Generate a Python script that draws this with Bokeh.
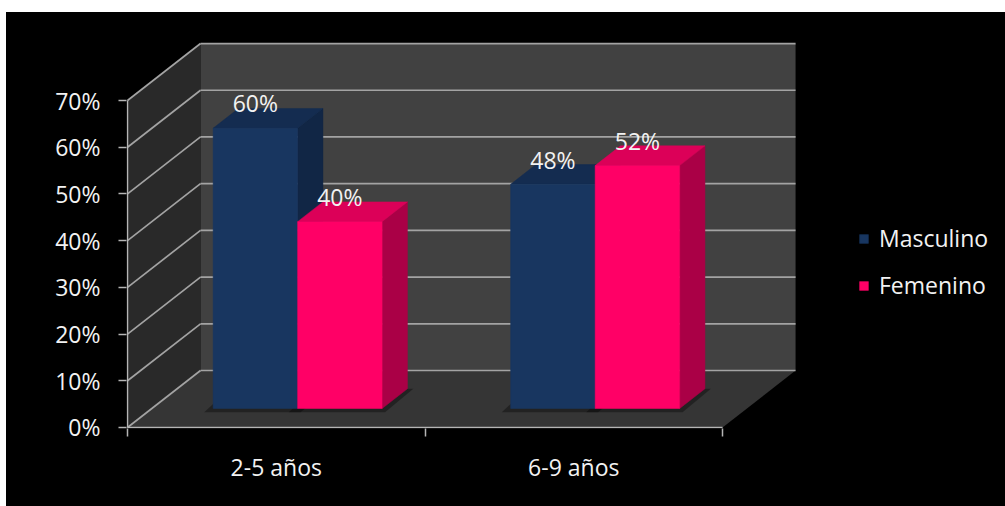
import numpy as np
from bokeh.plotting import figure
from bokeh.layouts import column, row
from bokeh.models import (Range1d, FixedTicker, PrintfTickFormatter, Legend, LegendItem,
                          ColumnDataSource, Spacer)
from bokeh.core.properties import value
from bokeh.embed import file_html
from bokeh.resources import INLINE

# ---- data ----
categories = ["2-5 años", "6-9 años"]
masculino = [60, 48]
femenino = [40, 52]
y_ticks = [0, 10, 20, 30, 40, 50, 60, 70]
series_names = ["Masculino", "Femenino"]

# ---- style / geometry constants ----
FONT = value("Open Sans")
TXT = "#f2f2f2"
AX = "#b5b5b5"
DX, DY = 0.2454, 12.2          # depth offset of the 3D box (data units)
D0, D1 = 1 / 3, 0.68           # depth slice occupied by bars
W = 0.142                      # half width of a bar
GX = -0.01                     # small shift of bar groups
YMAX = max(y_ticks)
NCAT = len(categories)
PX_X = 1 / 297.5               # one pixel in x data units
PX_Y = 1 / 4.671               # one pixel in y data units

p = figure(width=999, height=494,
           x_range=Range1d(-PX_X, 2.951), y_range=Range1d(-PX_Y, 87.13),
           output_backend="svg", toolbar_location=None,
           min_border_left=120, min_border_right=0, min_border_top=8, min_border_bottom=78,
           background_fill_color="black", border_fill_color=None)
p.styles = {"background-color": "black"}
p.outline_line_color = None
p.grid.visible = False

# walls and floor
p.patch([0, DX, DX, 0], [0, DY, YMAX + DY, YMAX], fill_color="#292929", line_color=None)
p.patch([DX, NCAT + DX, NCAT + DX, DX], [DY, DY, YMAX + DY, YMAX + DY],
        fill_color="#414141", line_color=None)
p.patch([0, NCAT, NCAT + DX, DX], [0, 0, DY, DY], fill_color="#353535", line_color=None)

# gridlines (side wall + back wall)
gx0, gy0, gx1, gy1 = [], [], [], []
for t in y_ticks:
    gx0 += [0, DX]; gy0 += [t, t + DY]
    gx1 += [DX, NCAT + DX]; gy1 += [t + DY, t + DY]
p.segment(gx0, gy0, gx1, gy1, line_color="#a3a3a3", line_width=1.7)

centers = np.arange(NCAT) + 0.5

# shadows
for vals, off in [(masculino, -W), (femenino, W)]:
    bc = centers + off + GX
    xs, ys = [], []
    for c in bc:
        xs.append([c - W + D0 * DX - 0.03, c + W + D0 * DX + 0.01, c + W + D1 * DX + 0.02, c - W + D1 * DX - 0.03])
        ys.append([D0 * DY - 0.8, D0 * DY - 0.8, D1 * DY, D1 * DY])
    p.patches(xs, ys, fill_color="black", fill_alpha=0.35, line_color=None)

fronts = []
colors = [("#183660", "#142c50", "#112645"), ("#ff0066", "#dc0058", "#aa0046")]
for vals, off, (cf, ct, cs) in [(masculino, -W, colors[0]), (femenino, W, colors[1])]:
    bc = centers + off + GX
    v = np.array(vals, dtype=float)
    x0 = bc - W + D0 * DX; x1 = bc + W + D0 * DX
    xb0 = bc - W + D1 * DX; xb1 = bc + W + D1 * DX
    yf = D0 * DY; yb = D1 * DY
    side_xs = [[a, b, b, a] for a, b in zip(x1, xb1)]
    side_ys = [[yf, yb, vv + yb, vv + yf] for vv in v]
    top_xs = [[a, b, d, c] for a, b, c, d in zip(x0, x1, xb0, xb1)]
    top_ys = [[vv + yf, vv + yf, vv + yb, vv + yb] for vv in v]
    fr_xs = [[a, b, b, a] for a, b in zip(x0, x1)]
    fr_ys = [[yf, yf, vv + yf, vv + yf] for vv in v]
    p.patches(side_xs, side_ys, fill_color=cs, line_color=cs, line_width=0.5)
    p.patches(top_xs, top_ys, fill_color=ct, line_color=ct, line_width=0.5)
    r = p.patches(fr_xs, fr_ys, fill_color=cf, line_color=cf, line_width=0.5)
    fronts.append(r)
    src = ColumnDataSource(dict(x=bc + D0 * DX, y=v + D1 * DY, t=[f"{int(vv)}%" for vv in v]))
    p.text("x", "y", text="t", source=src, text_font=FONT, text_font_size="23px",
           text_color=TXT, text_align="center", text_baseline="alphabetic", y_offset=-5)

# front axis lines (drawn as segments, limited to the chart box)
p.segment([0, 0], [0, 0], [0, NCAT], [YMAX, 0], line_color=AX, line_width=1.5)

# axes (ticks + labels only)
ya = p.yaxis[0]
ya.ticker = FixedTicker(ticks=y_ticks)
ya.formatter = PrintfTickFormatter(format="%d%%")
ya.axis_line_color = None
ya.major_tick_line_color = AX; ya.major_tick_line_width = 1.5
ya.major_tick_out = 8; ya.major_tick_in = 0
ya.minor_tick_line_color = None
ya.major_label_standoff = 18
ya.major_label_text_font = "Open Sans"; ya.major_label_text_font_size = "23px"
ya.major_label_text_color = TXT

xa = p.xaxis[0]
xa.ticker = FixedTicker(ticks=list(centers), minor_ticks=list(range(NCAT + 1)))
xa.major_label_overrides = {float(c): lab for c, lab in zip(centers, categories)}
xa.axis_line_color = None
xa.major_tick_out = 0; xa.major_tick_in = 0
xa.minor_tick_line_color = AX; xa.minor_tick_line_width = 1.5
xa.minor_tick_out = 8; xa.minor_tick_in = 0
xa.major_label_standoff = 14
xa.major_label_text_font = "Open Sans"; xa.major_label_text_font_size = "23px"
xa.major_label_text_color = TXT

legend = Legend(items=[LegendItem(label=series_names[0], renderers=[fronts[0]]),
                       LegendItem(label=series_names[1], renderers=[fronts[1]])],
                location=(732, 127), background_fill_alpha=0, border_line_color=None,
                label_text_color=TXT, label_text_font="Open Sans", label_text_font_size="23px",
                glyph_width=11, glyph_height=11, label_standoff=10, spacing=15,
                padding=0, margin=0)
p.add_layout(legend)

layout = column(Spacer(height=12, width=10), row(Spacer(width=6, height=10), p))
open("out.html", "w").write(file_html(layout, INLINE))
